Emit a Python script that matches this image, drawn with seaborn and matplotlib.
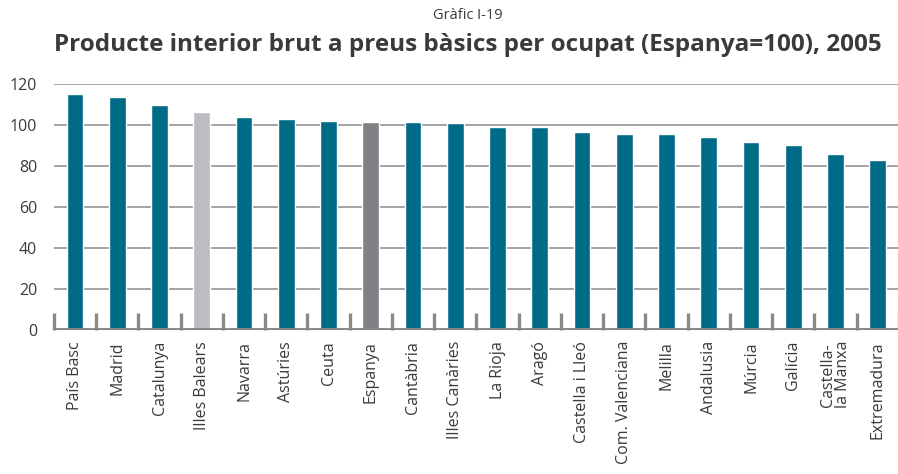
import numpy as np
import pandas as pd
import matplotlib
matplotlib.use("Agg")
import matplotlib.pyplot as plt
import seaborn as sns

categories = ["País Basc", "Madrid", "Catalunya", "Illes Balears", "Navarra", "Astúries",
              "Ceuta", "Espanya", "Cantàbria", "Illes Canàries", "La Rioja", "Aragó",
              "Castella i Lleó", "Com. Valenciana", "Melilla", "Andalusia", "Múrcia",
              "Galícia", "Castella-\nla Manxa", "Extremadura"]
values = [115.1, 113.7, 109.8, 106.3, 103.9, 102.9, 102.0, 101.5, 101.5, 101.0, 99.0, 99.0,
          96.6, 95.6, 95.6, 94.1, 91.7, 90.2, 85.9, 82.9]
y_ticks = [0, 20, 40, 60, 80, 100, 120]

TEAL = "#006b87"
colors = {c: TEAL for c in categories}
colors["Illes Balears"] = "#bcbdc0"
colors["Espanya"] = "#808184"

df = pd.DataFrame({"cat": categories, "val": values})

sns.set_theme(style="white")
plt.rcParams["font.family"] = ["Open Sans", "DejaVu Sans"]
TXT = "#3a3a3a"

fig = plt.figure(figsize=(8.98, 4.74), dpi=100)
ax = fig.add_axes([0.060, 0.304, 0.941, 0.519])

sns.barplot(data=df, x="cat", y="val", hue="cat", palette=colors, legend=False,
            width=0.4, saturation=1, ax=ax, zorder=3)

ax.set_ylim(0, 120)
ax.set_xlim(-0.5, len(categories) - 0.5)
ax.set_yticks(y_ticks)
ax.set_yticklabels([str(v) for v in y_ticks], fontsize=11.5, color=TXT)
for v in y_ticks[1:]:
    ax.axhline(v, color="#9c9c9c", lw=1.3, zorder=1)
ax.axhline(0, color="#858585", lw=3.5, zorder=4)

ax.set_xlabel("")
ax.set_ylabel("")
ax.set_xticks(range(len(categories)))
ax.set_xticklabels(categories, rotation=90, fontsize=11.5, color=TXT, va="top", ha="center",
                   linespacing=0.95)
ax.set_xticks(np.arange(-0.5, len(categories), 1), minor=True)
ax.tick_params(axis="x", which="major", length=0, pad=8)
ax.tick_params(axis="x", which="minor", direction="in", length=12.5, width=2.4,
               color="#8a8a8a", bottom=True)
ax.tick_params(axis="y", length=0, pad=12)
for s in ax.spines.values():
    s.set_visible(False)

fig.text(0.521, 0.967, "Gràfic I-19", ha="center", va="center", fontsize=10.5, color=TXT)
fig.text(0.521, 0.906, "Producte interior brut a preus bàsics per ocupat (Espanya=100), 2005",
         ha="center", va="center", fontsize=17.5, fontweight="bold", color=TXT)

fig.savefig("out.png", dpi=100)
